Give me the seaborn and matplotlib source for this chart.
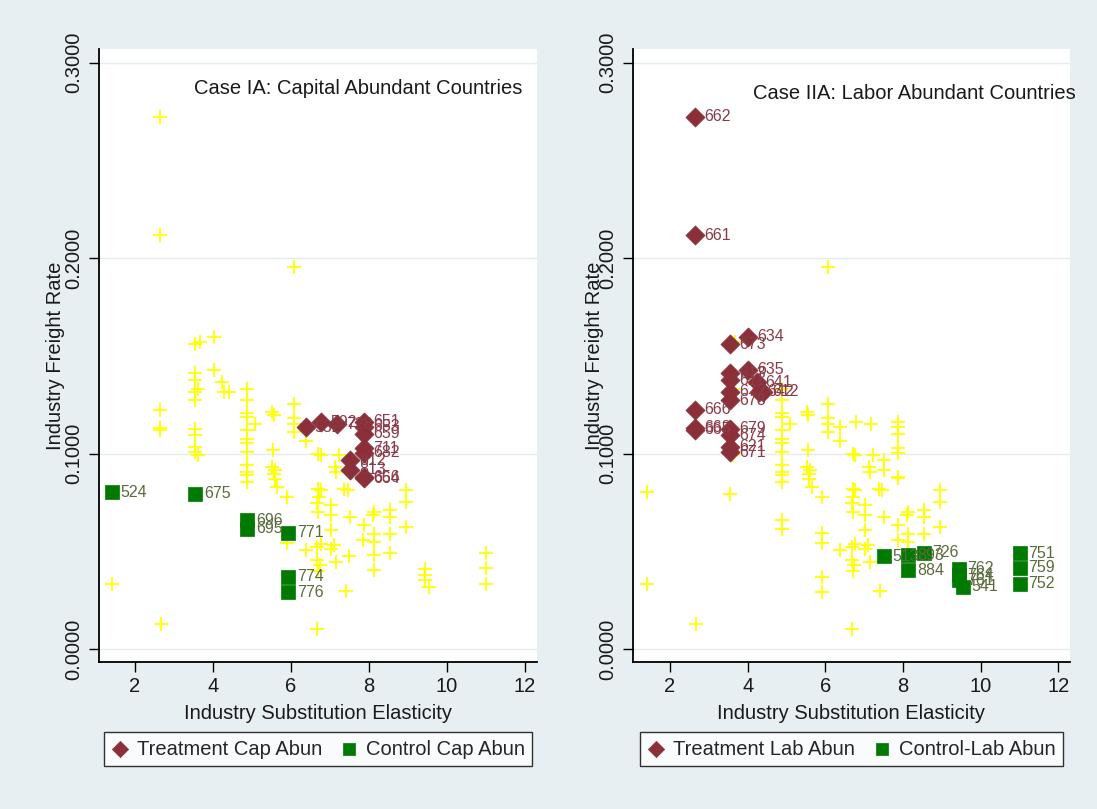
import numpy as np
import pandas as pd
import matplotlib
matplotlib.use("Agg")
import matplotlib.pyplot as plt
import seaborn as sns

# industries that are highlighted in neither panel (drawn as yellow crosses)
base_x = [1.41, 2.67, 3.67, 3.62, 3.62,
          4.88, 4.88, 4.88, 4.88, 4.88, 4.88, 4.88, 4.88, 4.88, 4.88, 4.88, 4.88, 5.09,
          5.52, 5.56, 5.55, 5.52, 5.60, 5.57, 5.58, 5.65, 5.91, 5.91,
          6.08, 6.08, 6.08, 6.08, 6.08, 6.38,
          6.70, 6.77, 7.24, 7.13, 7.15,
          6.70, 6.77, 6.72, 6.68, 6.70,
          7.02, 7.02, 7.02, 7.37, 7.47, 7.52,
          8.12, 8.10, 8.55, 8.55, 8.55,
          8.96, 8.96, 8.96, 7.88, 7.86, 8.14, 8.14,
          6.77, 6.68, 6.38, 7.11, 7.02,
          6.68, 6.75, 6.70, 7.15, 7.41, 6.68]
base_y = [0.0332, 0.0131, 0.1570, 0.0995, 0.1330,
          0.1333, 0.1274, 0.1206, 0.1188, 0.1120, 0.1078, 0.1055, 0.1009, 0.0941, 0.0907, 0.0889, 0.0856, 0.1153,
          0.1214, 0.1200, 0.1018, 0.0933, 0.0916, 0.0899, 0.0873, 0.0830, 0.0779, 0.0545,
          0.1956, 0.1255, 0.1184, 0.1150, 0.1112, 0.1067,
          0.1001, 0.0992, 0.0992, 0.0933, 0.0905,
          0.0822, 0.0813, 0.0779, 0.0750, 0.0700,
          0.0737, 0.0685, 0.0609, 0.0822, 0.0813, 0.0677,
          0.0702, 0.0685, 0.0711, 0.0677, 0.0588,
          0.0813, 0.0752, 0.0624, 0.0634, 0.0558, 0.0592, 0.0550,
          0.0540, 0.0523, 0.0506, 0.0532, 0.0515,
          0.0455, 0.0430, 0.0400, 0.0447, 0.0298, 0.0105]

# capital abundant countries
cap_treat_codes = ["532", "592", "728", "651", "653", "659", "711", "682", "812", "813", "656", "664"]
cap_treat_x = [6.38, 6.78, 7.18, 7.88, 7.88, 7.88, 7.88, 7.88, 7.52, 7.52, 7.88, 7.88]
cap_treat_y = [0.1136, 0.1160, 0.1152, 0.1163, 0.1137, 0.1103, 0.1027, 0.1004, 0.0967, 0.0919, 0.0881, 0.0875]

cap_ctrl_codes = ["524", "675", "696", "695", "771", "774", "776"]
cap_ctrl_x = [1.40, 3.55, 4.88, 4.88, 5.92, 5.92, 5.92]
cap_ctrl_y = [0.0803, 0.0796, 0.0660, 0.0617, 0.0597, 0.0370, 0.0293]

# labor abundant countries
lab_treat_codes = ["662", "661", "634", "673", "635", "613", "611", "672", "678", "641", "642", "612",
                   "666", "663", "665", "679", "674", "621", "671"]
lab_treat_x = [2.64, 2.64, 4.02, 3.55, 4.02, 3.55, 3.55, 3.55, 3.55, 4.23, 4.28, 4.40,
               2.64, 2.64, 2.64, 3.55, 3.55, 3.55, 3.55]
lab_treat_y = [0.2723, 0.2118, 0.1598, 0.1560, 0.1430, 0.1413, 0.1376, 0.1316, 0.1274, 0.1367, 0.1316, 0.1316,
               0.1226, 0.1134, 0.1124, 0.1129, 0.1095, 0.1035, 0.1009]

lab_ctrl_codes = ["513", "893", "884", "726", "762", "764", "761", "541", "751", "759", "752"]
lab_ctrl_x = [7.50, 8.14, 8.14, 8.53, 9.43, 9.43, 9.43, 9.54, 11.0, 11.0, 11.0]
lab_ctrl_y = [0.0477, 0.0482, 0.0404, 0.0494, 0.0413, 0.0379, 0.0353, 0.0319, 0.0490, 0.0416, 0.0336]


def frame(codes, xs, ys):
    return pd.DataFrame({'code': codes, 'x': xs, 'y': ys})


base = frame([""] * len(base_x), base_x, base_y)
cap_treat = frame(cap_treat_codes, cap_treat_x, cap_treat_y)
cap_ctrl = frame(cap_ctrl_codes, cap_ctrl_x, cap_ctrl_y)
lab_treat = frame(lab_treat_codes, lab_treat_x, lab_treat_y)
lab_ctrl = frame(lab_ctrl_codes, lab_ctrl_x, lab_ctrl_y)

sns.set_style("white")
plt.rcParams['font.family'] = ['Liberation Sans', 'DejaVu Sans']

BG = '#e8eff2'
MAROON = '#8b3038'
GREEN = '#007a00'
YELLOW = '#ffff00'
TREAT_TXT = '#8a3a48'
CTRL_TXT = '#5a6b3c'
FS = 14.5

fig = plt.figure(figsize=(10.97, 8.09), dpi=100, facecolor=BG)
ax1 = fig.add_axes([0.0902, 0.1817, 0.3993, 0.7577])
ax2 = fig.add_axes([0.5770, 0.1817, 0.3984, 0.7577])


def draw_panel(ax, others, treat, ctrl, title, tpos, leg_labels, xlim):
    ax.set_facecolor('white')
    ax.grid(axis='y', color='#e4ecef', lw=1.0)
    ax.set_axisbelow(True)
    sns.scatterplot(data=others, x='x', y='y', ax=ax, marker='+', s=105,
                    color=YELLOW, linewidth=1.3, legend=False, zorder=2)
    sns.scatterplot(data=treat, x='x', y='y', ax=ax, marker='D', s=95,
                    color=MAROON, edgecolor=MAROON, linewidth=0.5,
                    label=leg_labels[0], zorder=3)
    sns.scatterplot(data=ctrl, x='x', y='y', ax=ax, marker='s', s=105,
                    color=GREEN, edgecolor=GREEN, linewidth=0.5,
                    label=leg_labels[1], zorder=3)
    for df, col in [(treat, TREAT_TXT), (ctrl, CTRL_TXT)]:
        for _, r in df.iterrows():
            ax.annotate(r['code'], (r['x'], r['y']), xytext=(6.5, 0),
                        textcoords='offset points', va='center', ha='left',
                        fontsize=11.5, color=col, zorder=4)

    ax.text(tpos[0], tpos[1], title, transform=ax.transAxes, fontsize=FS,
            ha='left', va='center', color='#1a1a1a')

    ax.set_xlim(*xlim)
    ax.set_ylim(-0.0065, 0.307)
    ax.set_xticks([2, 4, 6, 8, 10, 12])
    ax.set_yticks([0.0, 0.1, 0.2, 0.3])
    ax.set_yticklabels(["0.0000", "0.1000", "0.2000", "0.3000"], rotation=90, va='center')
    ax.tick_params(direction='out', length=7, width=1, color='black',
                   labelsize=FS, labelcolor='#1a1a1a', left=True, bottom=True, pad=4)
    ax.set_xlabel("Industry Substitution Elasticity", fontsize=FS, color='#1a1a1a')
    ax.set_ylabel("Industry Freight Rate", fontsize=FS, color='#1a1a1a')
    ax.xaxis.set_label_coords(0.5, -0.068)
    sns.despine(ax=ax)
    for side in ['left', 'bottom']:
        ax.spines[side].set_color('black')
        ax.spines[side].set_linewidth(1.3)

    leg = ax.legend(loc='center', bbox_to_anchor=(0.5, -0.142), ncol=2,
                    fontsize=FS, frameon=True, fancybox=False, borderpad=0.35,
                    handletextpad=0.4, columnspacing=0.9, handlelength=0.9,
                    borderaxespad=0, markerscale=0.85)
    leg.get_frame().set_edgecolor('black')
    leg.get_frame().set_linewidth(1.0)
    leg.get_frame().set_facecolor('white')


draw_panel(ax1, pd.concat([base, lab_treat, lab_ctrl]), cap_treat, cap_ctrl,
           "Case IA: Capital Abundant Countries", (0.217, 0.935),
           ["Treatment Cap Abun", "Control Cap Abun"], (1.077, 12.31))
draw_panel(ax2, pd.concat([base, cap_treat, cap_ctrl]), lab_treat, lab_ctrl,
           "Case IIA: Labor Abundant Countries", (0.275, 0.927),
           ["Treatment Lab Abun", "Control-Lab Abun"], (1.048, 12.30))

ax1.yaxis.set_label_coords(-0.077, 0.5)
ax2.yaxis.set_label_coords(-0.066, 0.5)

fig.savefig("out.png", dpi=100, facecolor=BG)
